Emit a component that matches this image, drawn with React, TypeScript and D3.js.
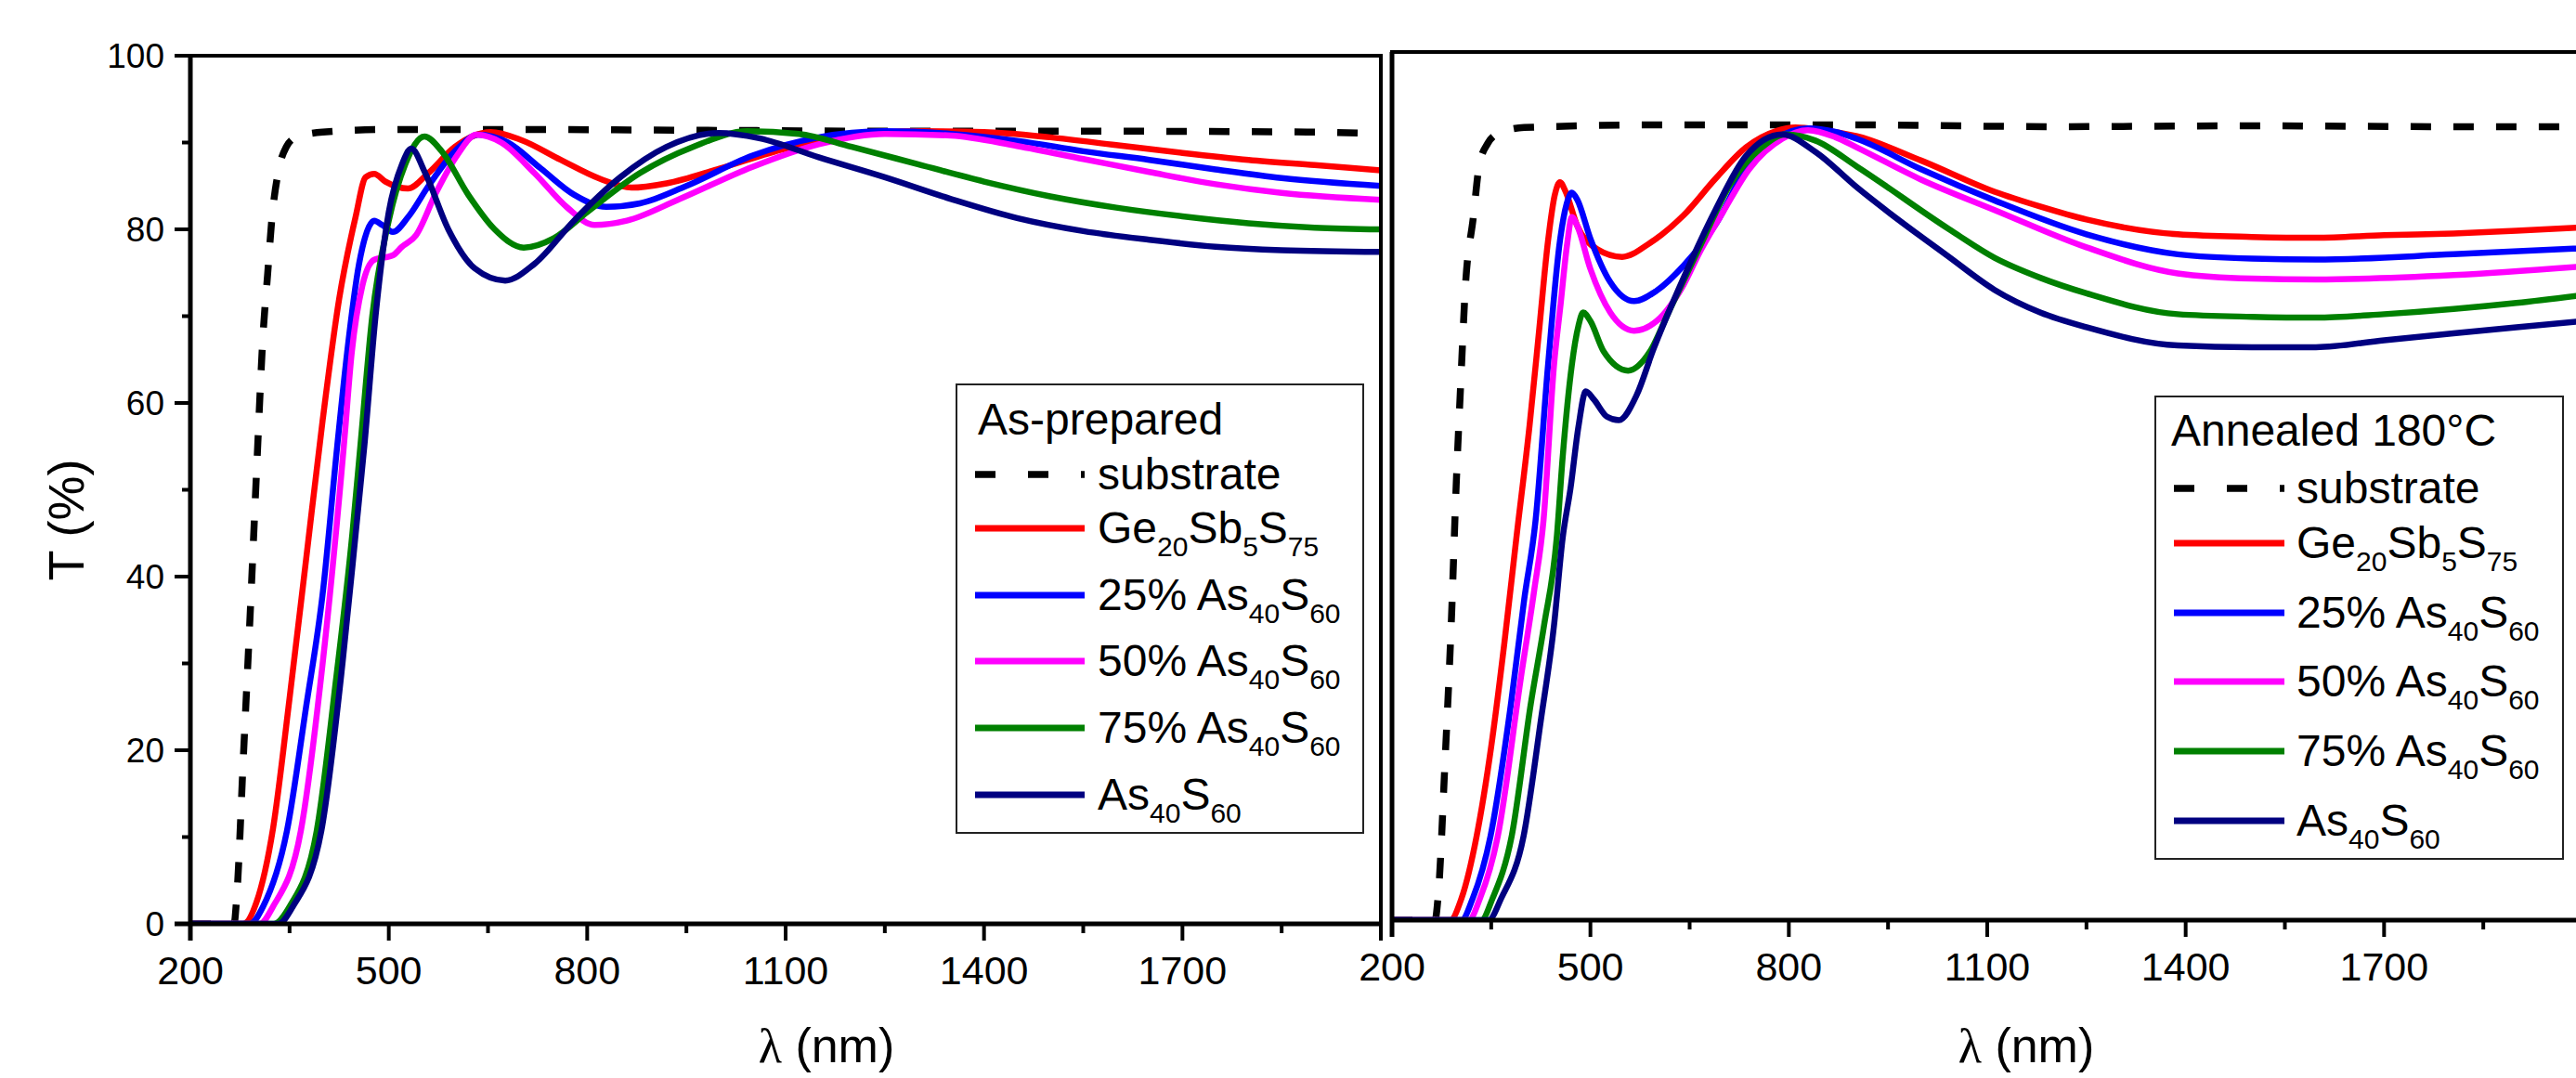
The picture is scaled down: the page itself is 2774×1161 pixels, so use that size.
import * as d3 from 'd3';
import { useEffect, useRef } from 'react';

const W = 2774;
const H = 1161;

type Pt = [number, number]; // [wavelength nm, T %]

// ---- As-prepared (left panel) ----
const asSubstrate: Pt[] = [
    [200, 0], [266, 0], [270, 3], [280, 19], [290, 35], [300, 52], [310, 68], [317, 75], [323, 81],
    [334, 87], [345, 89.5], [360, 90.6], [400, 91.2], [500, 91.5], [700, 91.5], [1000, 91.4],
    [1300, 91.3], [1600, 91.3], [1900, 91.2], [2000, 91],
];
const asGe: Pt[] = [
    [200, 0], [280, 0], [300, 2.5], [325, 11], [350, 26], [375, 42], [400, 58], [425, 72], [450, 81.5],
    [465, 86], [478, 86.4], [495, 85.5], [529, 84.7], [560, 86.5], [600, 89.5], [654, 91.2], [700, 90.3],
    [760, 88], [820, 85.8], [867, 84.8], [920, 85.3], [1000, 87], [1100, 89.3], [1200, 90.8], [1300, 91.3],
    [1400, 91.2], [1500, 90.6], [1600, 89.7], [1700, 88.8], [1800, 88], [1900, 87.4], [2000, 86.8],
];
const as25: Pt[] = [
    [200, 0], [290, 0], [310, 2], [346, 10.7], [375, 25], [400, 38], [422, 55], [437, 65.8], [455, 76],
    [470, 80.3], [478, 81], [490, 80.5], [506, 79.7], [530, 81.5], [560, 85], [600, 89], [635, 90.9],
    [680, 90], [730, 87], [780, 84], [829, 82.6], [880, 83], [950, 85], [1050, 88.5], [1150, 90.6],
    [1250, 91.3], [1350, 91], [1450, 90.2], [1550, 89], [1650, 88], [1750, 86.9], [1850, 85.9], [2000, 85],
];
const as50: Pt[] = [
    [200, 0], [305, 0], [325, 2], [367, 10.7], [400, 30], [432, 55], [444, 65.8], [460, 73.5], [478, 76.5],
    [506, 77], [520, 78], [541, 79.3], [572, 84.3], [604, 88.6], [632, 90.9], [670, 90], [720, 86.5],
    [770, 82.5], [811, 80.5], [860, 81], [940, 83.5], [1050, 87.2], [1150, 89.8], [1250, 91], [1350, 90.8],
    [1450, 89.6], [1550, 88.1], [1650, 86.6], [1750, 85.2], [1850, 84.2], [2000, 83.4],
];
const as75: Pt[] = [
    [200, 0], [326, 0], [350, 2], [391, 10.7], [420, 28], [445, 45], [457, 55], [475, 70], [500, 81],
    [525, 87.5], [554, 90.7], [580, 89], [620, 84], [660, 80], [704, 77.9], [750, 79], [800, 82],
    [880, 86.5], [960, 89.5], [1042, 91.3], [1120, 91], [1200, 89.5], [1300, 87.5], [1400, 85.5],
    [1500, 83.8], [1600, 82.5], [1700, 81.5], [1800, 80.7], [1900, 80.2], [2000, 80],
];
const asAs: Pt[] = [
    [200, 0], [333, 0], [355, 2], [398, 10.7], [430, 30], [450, 45], [463, 55], [480, 70], [500, 82],
    [520, 87.5], [534, 89.3], [555, 86.5], [590, 80], [630, 75.5], [676, 74.1], [720, 76], [780, 81],
    [850, 86], [920, 89.5], [999, 91.1], [1060, 90.5], [1150, 88.3], [1250, 86], [1350, 83.5],
    [1450, 81.3], [1550, 79.8], [1650, 78.8], [1750, 78], [1850, 77.6], [2000, 77.4],
];

// ---- Annealed 180°C (right panel) ----
const anSubstrate: Pt[] = [
    [200, 0], [265, 0], [270, 3], [280, 18], [290, 35], [297, 50], [304, 62], [311, 73], [323, 81],
    [332, 87], [345, 89.5], [360, 90.6], [400, 91.3], [600, 91.6], [900, 91.6], [1200, 91.4],
    [1500, 91.5], [1800, 91.4], [2000, 91.4],
];
const anGe: Pt[] = [
    [200, 0], [288, 0], [305, 2.5], [328, 9.7], [350, 20], [370, 32], [388, 44], [408, 57], [422, 67.6],
    [436, 78.3], [446, 83.5], [454, 85], [462, 84], [480, 80], [510, 77.3], [548, 76.4], [590, 78],
    [641, 81.2], [689, 85.4], [735, 89], [781, 90.9], [810, 91.3], [850, 91], [903, 90.3], [1000, 87.5],
    [1111, 83.9], [1180, 82.2], [1250, 80.7], [1388, 79], [1500, 78.7], [1597, 78.6], [1700, 78.9],
    [1805, 79.1], [1900, 79.4], [2000, 79.8],
];
const an25: Pt[] = [
    [200, 0], [305, 0], [322, 2.5], [349, 9.7], [380, 25], [400, 37], [417, 46], [436, 64], [454, 78.3],
    [464, 82.5], [472, 83.8], [480, 83], [500, 78.5], [530, 73.5], [566, 71.3], [600, 72.5], [641, 75.4],
    [689, 80.1], [735, 86.5], [781, 90], [829, 91.2], [870, 90.8], [903, 90], [1000, 86.5], [1111, 82.9],
    [1250, 79], [1388, 76.7], [1500, 76.2], [1597, 76.1], [1805, 76.7], [2000, 77.4],
];
const an50: Pt[] = [
    [200, 0], [316, 0], [333, 2.5], [360, 9.7], [395, 28], [415, 38], [429, 46], [445, 64], [455, 71],
    [465, 78], [472, 81], [480, 80], [500, 75], [530, 70], [566, 67.9], [600, 69], [641, 73.2],
    [665, 76.9], [700, 81.5], [740, 86.5], [790, 90], [829, 91], [870, 90.2], [903, 89], [1000, 85.3],
    [1111, 81.8], [1250, 77.5], [1388, 74.5], [1500, 73.9], [1597, 73.8], [1805, 74.3], [2000, 75.3],
];
const an75: Pt[] = [
    [200, 0], [335, 0], [352, 2.5], [381, 9.7], [410, 25], [430, 34], [449, 44], [458, 53.3], [472, 64],
    [482, 68.5], [489, 70], [500, 69], [520, 65.5], [557, 63.3], [590, 65.5], [618, 70], [665, 77.5],
    [711, 84.7], [759, 89], [795, 90.5], [840, 89.8], [903, 86.8], [1042, 79.6], [1111, 76.3],
    [1180, 74], [1250, 72.2], [1388, 69.8], [1500, 69.5], [1597, 69.4], [1700, 69.8], [1805, 70.4],
    [1900, 71.1], [2000, 72],
];
const anAs: Pt[] = [
    [200, 0], [346, 0], [365, 2.5], [399, 9.7], [425, 23], [445, 34], [458, 44], [470, 49.8], [482, 56.9],
    [493, 60.9], [505, 60], [525, 58], [543, 57.6], [570, 60.5], [595, 65.7], [641, 74], [689, 81.8],
    [735, 88], [790, 90.5], [840, 88.5], [903, 84.4], [1042, 76.4], [1111, 72.6], [1180, 70],
    [1250, 68.3], [1388, 66.2], [1500, 66], [1597, 66], [1700, 66.8], [1805, 67.6], [1900, 68.3], [2000, 69],
];

const seriesColors = ['#ff0000', '#0000ff', '#ff00ff', '#008000', '#000080'];

// legend labels: [text, isSubscript]
const legendLabels: [string, boolean][][] = [
    [['substrate', false]],
    [['Ge', false], ['20', true], ['Sb', false], ['5', true], ['S', false], ['75', true]],
    [['25% As', false], ['40', true], ['S', false], ['60', true]],
    [['50% As', false], ['40', true], ['S', false], ['60', true]],
    [['75% As', false], ['40', true], ['S', false], ['60', true]],
    [['As', false], ['40', true], ['S', false], ['60', true]],
];

const xMajorTicks = [200, 500, 800, 1100, 1400, 1700, 2000];
const xMinorTicks = [350, 650, 950, 1250, 1550, 1850];
const xTickLabels = [200, 500, 800, 1100, 1400, 1700];
const yMajorTicks = [0, 20, 40, 60, 80, 100];
const yMinorTicks = [10, 30, 50, 70, 90];

const SANS = '"Liberation Sans", Arial, sans-serif';
const SERIF = '"Liberation Serif", "Times New Roman", serif';

const panels = [
    {
        left: 205, right: 1487, top: 60, bottom: 995,
        substrate: asSubstrate, series: [asGe, as25, as50, as75, asAs],
        yTicks: true, title: 'As-prepared',
        legend: { x0: 1030, y0: 414, x1: 1468, y1: 897, titleY: 468, rows: [527, 585, 657, 728, 800, 872], lineX0: 1050, lineX1: 1168, textX: 1182, titleX: 1053 },
        xTitleX: 890,
    },
    {
        left: 1499, right: 2781, top: 56, bottom: 991,
        substrate: anSubstrate, series: [anGe, an25, an50, an75, anAs],
        yTicks: false, title: 'Annealed 180°C',
        legend: { x0: 2321, y0: 427, x1: 2760, y1: 925, titleY: 480, rows: [542, 601, 676, 750, 825, 900], lineX0: 2341, lineX1: 2460, textX: 2473, titleX: 2338 },
        xTitleX: 2182,
    },
];

const App = () => {
    const svgRef = useRef<SVGSVGElement>(null);

    useEffect(() => {
        const svg = d3.select(svgRef.current);
        svg.selectAll('*').remove();
        svg.attr('width', W).attr('height', H);
        svg.append('rect').attr('width', W).attr('height', H).attr('fill', '#fff');

        panels.forEach((p, i) => {
            const x = d3.scaleLinear().domain([200, 2000]).range([p.left, p.right]);
            const y = d3.scaleLinear().domain([0, 100]).range([p.bottom, p.top]);
            const g = svg.append('g');

            const clipId = `clip-${i}`;
            g.append('clipPath')
                .attr('id', clipId)
                .append('rect')
                .attr('x', p.left)
                .attr('y', p.top)
                .attr('width', p.right - p.left)
                .attr('height', p.bottom - p.top);

            const line = d3
                .line<Pt>()
                .x((d) => x(d[0]))
                .y((d) => y(d[1]))
                .curve(d3.curveMonotoneX);

            const plot = g.append('g').attr('clip-path', `url(#${clipId})`);
            plot.append('path')
                .datum(p.substrate)
                .attr('d', line)
                .attr('fill', 'none')
                .attr('stroke', '#000')
                .attr('stroke-width', 7.5)
                .attr('stroke-dasharray', '22 24');
            p.series.forEach((s, k) => {
                plot.append('path')
                    .datum(s)
                    .attr('d', line)
                    .attr('fill', 'none')
                    .attr('stroke', seriesColors[k])
                    .attr('stroke-width', 6.5)
                    .attr('stroke-linejoin', 'round');
            });

            // frame
            g.append('rect')
                .attr('x', p.left)
                .attr('y', p.top)
                .attr('width', p.right - p.left)
                .attr('height', p.bottom - p.top)
                .attr('fill', 'none')
                .attr('stroke', '#000')
                .attr('stroke-width', 4);
            g.append('line')
                .attr('x1', p.left).attr('x2', p.left)
                .attr('y1', p.top).attr('y2', p.bottom + 18)
                .attr('stroke', '#000').attr('stroke-width', 5);
            g.append('line')
                .attr('x1', p.yTicks ? p.left - 17 : p.left).attr('x2', p.right)
                .attr('y1', p.bottom).attr('y2', p.bottom)
                .attr('stroke', '#000').attr('stroke-width', 5);

            // x ticks
            xMajorTicks.forEach((t) => {
                g.append('line')
                    .attr('x1', x(t)).attr('x2', x(t))
                    .attr('y1', p.bottom).attr('y2', p.bottom + 18)
                    .attr('stroke', '#000').attr('stroke-width', 4);
            });
            xMinorTicks.forEach((t) => {
                g.append('line')
                    .attr('x1', x(t)).attr('x2', x(t))
                    .attr('y1', p.bottom).attr('y2', p.bottom + 10)
                    .attr('stroke', '#000').attr('stroke-width', 4);
            });
            xTickLabels.forEach((t) => {
                g.append('text')
                    .attr('x', x(t))
                    .attr('y', p.bottom + 65)
                    .attr('text-anchor', 'middle')
                    .style('font-family', SANS)
                    .style('font-size', '43px')
                    .text(t);
            });

            // y ticks (left panel only)
            if (p.yTicks) {
                yMajorTicks.forEach((t) => {
                    g.append('line')
                        .attr('x1', p.left - 17).attr('x2', p.left)
                        .attr('y1', y(t)).attr('y2', y(t))
                        .attr('stroke', '#000').attr('stroke-width', 4);
                    g.append('text')
                        .attr('x', p.left - 28)
                        .attr('y', y(t) + 13)
                        .attr('text-anchor', 'end')
                        .style('font-family', SANS)
                        .style('font-size', '37px')
                        .text(t);
                });
                yMinorTicks.forEach((t) => {
                    g.append('line')
                        .attr('x1', p.left - 9).attr('x2', p.left)
                        .attr('y1', y(t)).attr('y2', y(t))
                        .attr('stroke', '#000').attr('stroke-width', 4);
                });
            }

            // x title
            const xt = g.append('text')
                .attr('x', p.xTitleX)
                .attr('y', 1144)
                .attr('text-anchor', 'middle')
                .style('font-size', '52px');
            xt.append('tspan').style('font-family', SERIF).text('λ');
            xt.append('tspan').style('font-family', SANS).text(' (nm)');

            // legend
            const L = p.legend;
            const lg = g.append('g');
            lg.append('rect')
                .attr('x', L.x0).attr('y', L.y0)
                .attr('width', L.x1 - L.x0).attr('height', L.y1 - L.y0)
                .attr('fill', '#fff')
                .attr('stroke', '#222')
                .attr('stroke-width', 2);
            lg.append('text')
                .attr('x', L.titleX)
                .attr('y', L.titleY)
                .style('font-family', SANS)
                .style('font-size', '48px')
                .text(p.title);
            legendLabels.forEach((parts, k) => {
                const ly = L.rows[k] - 16;
                lg.append('line')
                    .attr('x1', L.lineX0).attr('x2', L.lineX1)
                    .attr('y1', ly).attr('y2', ly)
                    .attr('stroke', k === 0 ? '#000' : seriesColors[k - 1])
                    .attr('stroke-width', k === 0 ? 7.5 : 7)
                    .attr('stroke-dasharray', k === 0 ? '22 35' : null);
                const tx = lg.append('text')
                    .attr('x', L.textX)
                    .attr('y', L.rows[k])
                    .style('font-family', SANS)
                    .style('font-size', '48px');
                let down = false;
                parts.forEach(([txt, sub]) => {
                    const ts = tx.append('tspan').text(txt);
                    if (sub && !down) {
                        ts.attr('dy', 14).style('font-size', '30px');
                        down = true;
                    } else if (!sub && down) {
                        ts.attr('dy', -14);
                        down = false;
                    } else if (sub) {
                        ts.style('font-size', '30px');
                    }
                });
            });
        });

        // y title
        svg.append('text')
            .attr('transform', 'translate(90, 560) rotate(-90)')
            .attr('text-anchor', 'middle')
            .style('font-family', SANS)
            .style('font-size', '54px')
            .text('T (%)');
    }, []);

    return <svg ref={svgRef} style={{ position: 'absolute', left: 0, top: 0, display: 'block' }} />;
};

export default App;
